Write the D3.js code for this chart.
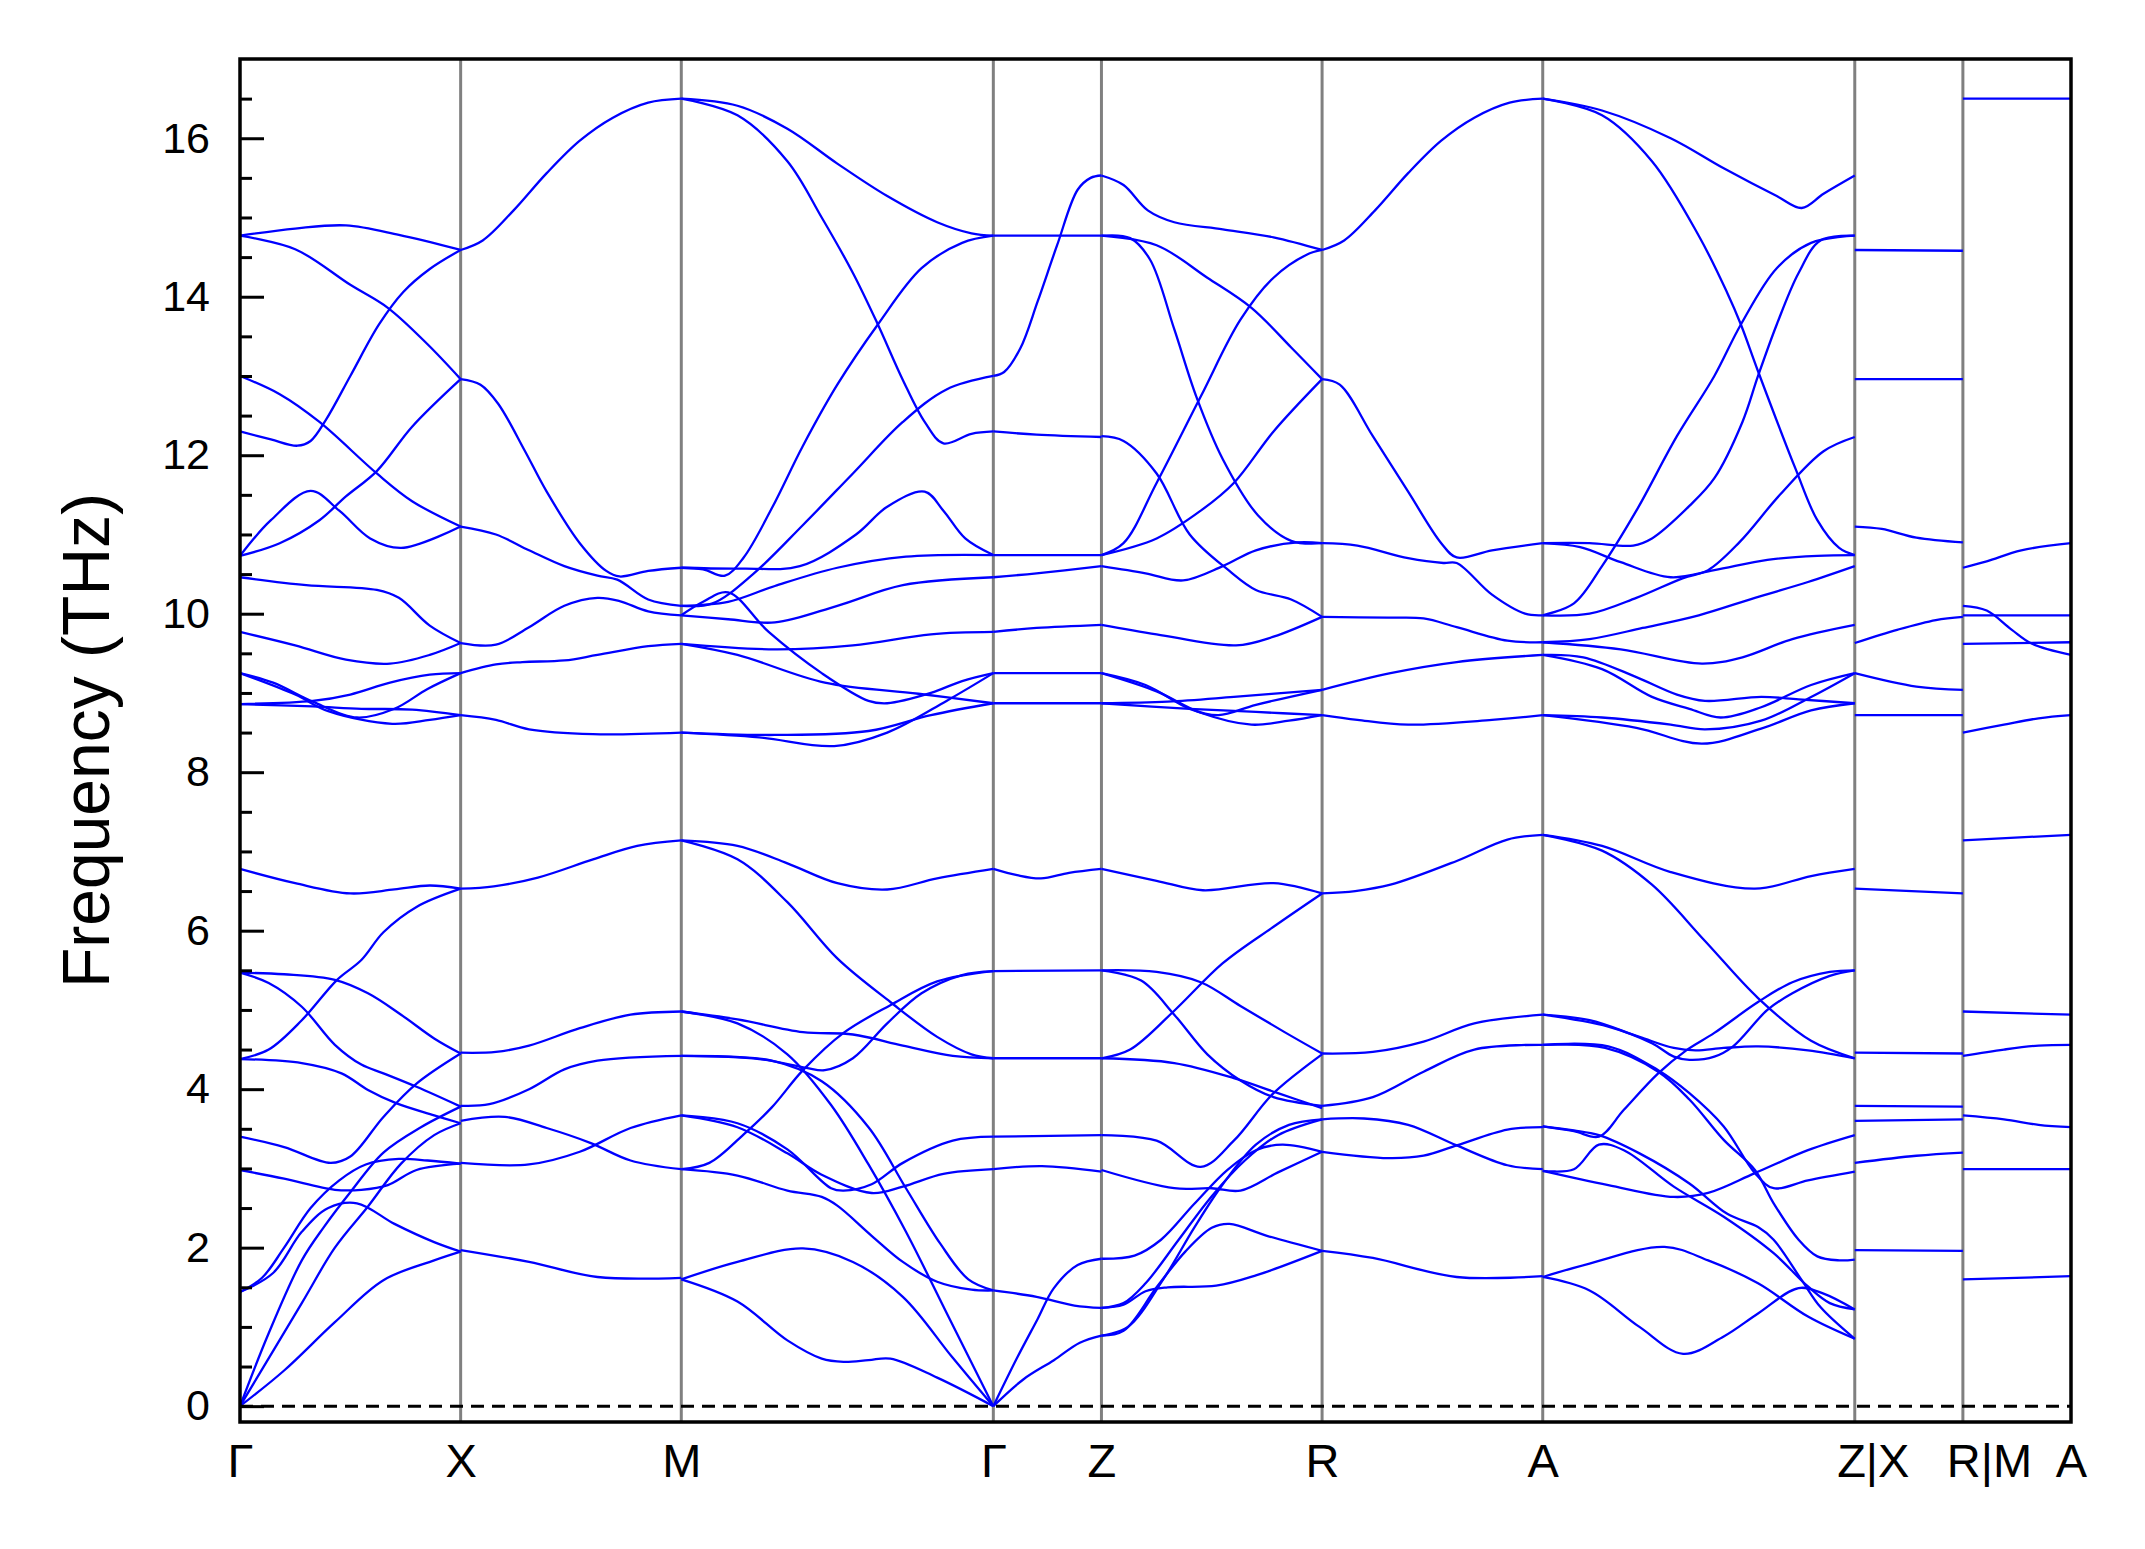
<!DOCTYPE html>
<html><head><meta charset="utf-8">
<script src="https://cdn.jsdelivr.net/npm/d3@7"></script>
<style>body{margin:0;background:#fff}</style>
</head><body><svg id="c" width="2145" height="1549"></svg>
<script>
// ---- high-symmetry path ----
const kLabels = ["Γ","X","M","Γ","Z","R","A","Z|X","R|M","A"];
const segLengths = [0.5, 0.5, 0.7071, 0.245, 0.5, 0.5, 0.7071, 0.245, 0.245];
const yMajorTicks = [0,2,4,6,8,10,12,14,16];

// ---- bands: each curve = [fraction along segment, frequency THz] ----
const bandsGX = [
 [[0,14.77],[0.25,14.86],[0.48,14.9],[0.72,14.78],[1,14.59]],
 [[0,14.77],[0.25,14.6],[0.5,14.15],[0.67,13.86],[0.85,13.4],[1,12.96]],
 [[0,13.0],[0.18,12.77],[0.36,12.42],[0.62,11.77],[0.78,11.42],[1,11.1]],
 [[0,12.3],[0.14,12.2],[0.26,12.12],[0.32,12.18],[0.39,12.45],[0.5,13.0],[0.63,13.65],[0.74,14.06],[0.86,14.35],[1,14.59]],
 [[0,10.73],[0.14,11.18],[0.32,11.55],[0.45,11.3],[0.59,10.95],[0.73,10.83],[1,11.1]],
 [[0,10.73],[0.18,10.89],[0.36,11.18],[0.48,11.48],[0.62,11.8],[0.78,12.36],[1,12.96]],
 [[0,10.46],[0.3,10.36],[0.62,10.3],[0.72,10.2],[0.86,9.85],[1,9.63]],
 [[0,9.77],[0.25,9.6],[0.48,9.42],[0.68,9.37],[0.86,9.48],[1,9.63]],
 [[0,9.25],[0.15,9.13],[0.33,8.89],[0.53,8.69],[0.7,8.8],[0.85,9.05],[1,9.25]],
 [[0,9.25],[0.25,8.98],[0.4,8.77],[0.69,8.61],[0.86,8.66],[1,8.72]],
 [[0,8.86],[0.33,8.83],[0.55,8.8],[0.78,8.79],[1,8.72]],
 [[0,8.86],[0.33,8.9],[0.5,8.98],[0.68,9.13],[0.86,9.23],[1,9.25]],
 [[0,6.78],[0.25,6.6],[0.5,6.47],[0.7,6.52],[0.86,6.57],[1,6.53]],
 [[0,5.47],[0.2,5.45],[0.43,5.38],[0.58,5.21],[0.73,4.94],[0.88,4.64],[1,4.45]],
 [[0,5.47],[0.13,5.34],[0.28,5.04],[0.43,4.56],[0.55,4.31],[0.65,4.2],[0.8,4.03],[1,3.78]],
 [[0,4.38],[0.13,4.5],[0.28,4.87],[0.44,5.38],[0.55,5.63],[0.65,5.98],[0.8,6.3],[1,6.53]],
 [[0,4.38],[0.28,4.33],[0.46,4.2],[0.58,3.99],[0.71,3.82],[0.88,3.67],[1,3.57]],
 [[0,3.40],[0.2,3.27],[0.41,3.07],[0.5,3.15],[0.65,3.65],[0.8,4.07],[1,4.45]],
 [[0,2.98],[0.2,2.87],[0.43,2.73],[0.55,2.73],[0.67,2.79],[0.8,2.98],[1,3.06]],
 [[0,1.44],[0.1,1.62],[0.2,2.0],[0.32,2.5],[0.45,2.85],[0.57,3.05],[0.72,3.12],[0.85,3.1],[1,3.06]],
 [[0,1.44],[0.15,1.68],[0.28,2.2],[0.4,2.5],[0.53,2.56],[0.7,2.3],[0.88,2.07],[1,1.95]],
 [[0,0],[0.13,0.92],[0.28,1.84],[0.38,2.26],[0.5,2.7],[0.65,3.2],[0.82,3.52],[1,3.78]],
 [[0,0],[0.28,1.3],[0.43,2.0],[0.58,2.52],[0.73,3.06],[0.88,3.42],[1,3.57]],
 [[0,0],[0.2,0.45],[0.43,1.06],[0.65,1.59],[0.88,1.84],[1,1.95]]
];
const bandsXM = [
 [[0,14.59],[0.1,14.71],[0.24,15.09],[0.39,15.56],[0.54,15.97],[0.69,16.26],[0.85,16.45],[1,16.5]],
 [[0,12.96],[0.09,12.89],[0.17,12.65],[0.29,12.06],[0.39,11.54],[0.54,10.89],[0.66,10.54],[0.72,10.47],[0.85,10.54],[1,10.58]],
 [[0,11.1],[0.16,11.0],[0.31,10.8],[0.47,10.6],[0.62,10.48],[0.71,10.43],[0.85,10.18],[1,10.1]],
 [[0,9.63],[0.16,9.61],[0.31,9.83],[0.47,10.1],[0.62,10.2],[0.72,10.16],[0.85,10.03],[1,9.98]],
 [[0,9.25],[0.16,9.36],[0.28,9.39],[0.47,9.41],[0.62,9.48],[0.85,9.59],[1,9.62]],
 [[0,8.72],[0.16,8.66],[0.31,8.54],[0.6,8.48],[1,8.5]],
 [[0,6.53],[0.15,6.56],[0.35,6.67],[0.6,6.9],[0.8,7.07],[1,7.14]],
 [[0,4.46],[0.16,4.47],[0.31,4.55],[0.54,4.77],[0.77,4.94],[1,4.98]],
 [[0,3.79],[0.13,3.81],[0.31,4.0],[0.47,4.25],[0.62,4.36],[1,4.42]],
 [[0,3.6],[0.2,3.65],[0.39,3.51],[0.59,3.32],[0.77,3.1],[1,2.99]],
 [[0,3.07],[0.31,3.05],[0.54,3.21],[0.77,3.51],[1,3.67]],
 [[0,1.97],[0.31,1.82],[0.62,1.63],[1,1.62]]
];
const bandsMG = [
 [[0,16.5],[0.18,16.41],[0.34,16.12],[0.5,15.68],[0.66,15.27],[0.82,14.94],[0.93,14.8],[1,14.77]],
 [[0,16.5],[0.18,16.29],[0.34,15.71],[0.45,15.0],[0.55,14.3],[0.63,13.65],[0.71,12.95],[0.78,12.42],[0.84,12.15],[0.93,12.27],[1,12.3]],
 [[0,10.58],[0.07,10.56],[0.14,10.48],[0.2,10.71],[0.29,11.33],[0.39,12.12],[0.5,12.89],[0.63,13.65],[0.77,14.36],[0.9,14.68],[1,14.77]],
 [[0,10.1],[0.1,10.13],[0.23,10.5],[0.39,11.12],[0.55,11.77],[0.71,12.42],[0.85,12.83],[1,13.0]],
 [[0,10.58],[0.2,10.57],[0.38,10.6],[0.56,11.0],[0.66,11.35],[0.78,11.54],[0.84,11.3],[0.91,10.95],[1,10.74]],
 [[0,10.1],[0.15,10.15],[0.3,10.35],[0.5,10.58],[0.72,10.72],[1,10.74]],
 [[0,9.98],[0.15,9.93],[0.3,9.89],[0.5,10.1],[0.71,10.36],[1,10.46]],
 [[0,9.98],[0.07,10.15],[0.15,10.27],[0.28,9.77],[0.45,9.25],[0.6,8.9],[0.66,8.87],[0.8,9.0],[0.9,9.15],[1,9.25]],
 [[0,9.62],[0.3,9.55],[0.55,9.6],[0.8,9.74],[1,9.77]],
 [[0,9.62],[0.18,9.48],[0.46,9.13],[0.76,8.99],[1,8.87]],
 [[0,8.5],[0.3,8.47],[0.6,8.52],[0.8,8.72],[1,8.87]],
 [[0,8.5],[0.25,8.44],[0.49,8.33],[0.66,8.5],[0.85,8.9],[1,9.25]],
 [[0,7.14],[0.18,7.07],[0.34,6.85],[0.5,6.6],[0.66,6.52],[0.82,6.66],[1,6.78]],
 [[0,7.14],[0.18,6.9],[0.34,6.36],[0.5,5.65],[0.67,5.1],[0.82,4.66],[0.93,4.44],[1,4.39]],
 [[0,4.98],[0.18,4.88],[0.39,4.72],[0.55,4.69],[0.71,4.55],[0.87,4.42],[1,4.39]],
 [[0,4.98],[0.18,4.83],[0.34,4.44],[0.48,3.8],[0.6,3.05],[0.72,2.2],[0.86,1.1],[1,0]],
 [[0,4.42],[0.29,4.36],[0.45,4.1],[0.6,3.52],[0.72,2.75],[0.83,2.05],[0.92,1.6],[1,1.46]],
 [[0,4.42],[0.25,4.38],[0.4,4.27],[0.46,4.24],[0.55,4.39],[0.66,4.83],[0.77,5.21],[0.9,5.44],[1,5.49]],
 [[0,3.67],[0.18,3.57],[0.34,3.24],[0.48,2.75],[0.52,2.72],[0.61,2.8],[0.71,3.07],[0.87,3.35],[1,3.4]],
 [[0,3.67],[0.18,3.52],[0.34,3.19],[0.45,2.92],[0.61,2.69],[0.71,2.77],[0.84,2.93],[1,2.99]],
 [[0,2.99],[0.09,3.07],[0.2,3.43],[0.29,3.77],[0.39,4.24],[0.52,4.71],[0.67,5.06],[0.82,5.36],[1,5.49]],
 [[0,2.99],[0.18,2.91],[0.34,2.72],[0.45,2.64],[0.5,2.53],[0.61,2.15],[0.71,1.82],[0.82,1.57],[0.93,1.47],[1,1.46]],
 [[0,1.6],[0.18,1.82],[0.39,1.99],[0.55,1.82],[0.71,1.38],[0.87,0.61],[1,0]],
 [[0,1.6],[0.18,1.32],[0.34,0.83],[0.45,0.6],[0.52,0.56],[0.6,0.58],[0.67,0.6],[0.82,0.36],[1,0]]
];
const bandsGZ = [
 [[0,14.77],[1,14.77]],
 [[0,13.0],[0.1,13.05],[0.25,13.35],[0.41,13.94],[0.59,14.65],[0.78,15.35],[0.9,15.5],[1,15.53]],
 [[0,12.3],[0.4,12.26],[1,12.23]],
 [[0,10.74],[1,10.74]],
 [[0,10.46],[0.4,10.51],[1,10.6]],
 [[0,9.77],[0.4,9.82],[1,9.86]],
 [[0,9.25],[1,9.25]],
 [[0,8.87],[1,8.87]],
 [[0,6.78],[0.22,6.7],[0.44,6.66],[0.7,6.73],[1,6.78]],
 [[0,5.49],[1,5.5]],
 [[0,4.39],[1,4.39]],
 [[0,3.4],[1,3.42]],
 [[0,2.99],[0.45,3.03],[1,2.96]],
 [[0,1.46],[0.4,1.38],[0.75,1.27],[1,1.24]],
 [[0,0],[0.22,0.61],[0.41,1.1],[0.56,1.49],[0.78,1.78],[1,1.86]],
 [[0,0],[0.28,0.34],[0.56,0.58],[0.8,0.8],[1,0.89]]
];
const bandsZR = [
 [[0,15.53],[0.1,15.41],[0.21,15.09],[0.33,14.94],[0.55,14.85],[0.78,14.75],[1,14.59]],
 [[0,14.77],[0.13,14.74],[0.22,14.47],[0.33,13.59],[0.43,12.74],[0.55,11.95],[0.71,11.24],[0.86,10.92],[1,10.89]],
 [[0,14.77],[0.25,14.65],[0.48,14.24],[0.68,13.86],[0.86,13.36],[1,12.96]],
 [[0,12.24],[0.1,12.18],[0.25,11.77],[0.4,11.0],[0.58,10.54],[0.7,10.3],[0.86,10.18],[1,9.96]],
 [[0,10.74],[0.1,10.89],[0.25,11.65],[0.45,12.74],[0.63,13.71],[0.78,14.24],[0.93,14.53],[1,14.59]],
 [[0,10.74],[0.25,10.95],[0.45,11.3],[0.6,11.65],[0.78,12.3],[1,12.96]],
 [[0,10.6],[0.2,10.51],[0.37,10.42],[0.55,10.6],[0.7,10.8],[0.89,10.9],[1,10.89]],
 [[0,9.86],[0.25,9.74],[0.61,9.6],[0.78,9.71],[1,9.96]],
 [[0,9.25],[0.2,9.1],[0.4,8.8],[0.53,8.72],[0.7,8.85],[1,9.04]],
 [[0,9.25],[0.25,9.02],[0.45,8.75],[0.68,8.6],[0.85,8.65],[1,8.72]],
 [[0,8.87],[0.3,8.89],[0.6,8.95],[1,9.04]],
 [[0,8.87],[0.4,8.8],[0.7,8.76],[1,8.72]],
 [[0,6.78],[0.25,6.63],[0.46,6.51],[0.78,6.6],[1,6.47]],
 [[0,5.5],[0.25,5.48],[0.45,5.35],[0.63,5.05],[0.83,4.72],[1,4.45]],
 [[0,5.5],[0.18,5.37],[0.33,4.94],[0.48,4.44],[0.63,4.11],[0.78,3.9],[1,3.79]],
 [[0,4.39],[0.13,4.5],[0.33,4.99],[0.55,5.59],[0.78,6.05],[1,6.47]],
 [[0,4.39],[0.33,4.33],[0.6,4.14],[0.8,3.95],[1,3.76]],
 [[0,3.42],[0.25,3.35],[0.45,3.02],[0.6,3.35],[0.78,3.95],[1,4.44]],
 [[0,2.98],[0.33,2.75],[0.5,2.75],[0.63,2.72],[0.8,2.95],[1,3.21]],
 [[0,1.86],[0.15,1.9],[0.27,2.1],[0.42,2.55],[0.57,2.98],[0.7,3.23],[0.82,3.3],[1,3.21]],
 [[0,1.24],[0.1,1.28],[0.2,1.45],[0.3,1.5],[0.52,1.52],[0.7,1.65],[1,1.96]],
 [[0,1.24],[0.1,1.3],[0.2,1.55],[0.35,2.1],[0.5,2.65],[0.65,3.1],[0.8,3.42],[1,3.62]],
 [[0,0.89],[0.1,0.95],[0.25,1.5],[0.38,1.95],[0.5,2.25],[0.58,2.3],[0.75,2.15],[1,1.96]],
 [[0,0.89],[0.12,1.0],[0.28,1.6],[0.42,2.25],[0.55,2.8],[0.7,3.3],[0.85,3.55],[1,3.62]]
];
const bandsRA = [
 [[0,14.59],[0.1,14.71],[0.24,15.09],[0.39,15.56],[0.54,15.97],[0.69,16.26],[0.85,16.45],[1,16.5]],
 [[0,12.96],[0.08,12.89],[0.23,12.24],[0.39,11.54],[0.54,10.89],[0.61,10.71],[0.77,10.8],[1,10.89]],
 [[0,10.89],[0.16,10.86],[0.39,10.7],[0.55,10.64],[0.61,10.64],[0.77,10.24],[0.92,10.0],[1,9.98]],
 [[0,9.96],[0.3,9.95],[0.46,9.94],[0.61,9.83],[0.84,9.66],[1,9.64]],
 [[0,9.04],[0.31,9.25],[0.61,9.39],[1,9.48]],
 [[0,8.72],[0.16,8.66],[0.39,8.6],[0.77,8.66],[1,8.72]],
 [[0,6.47],[0.15,6.5],[0.31,6.58],[0.61,6.88],[0.84,7.15],[1,7.21]],
 [[0,4.45],[0.23,4.47],[0.46,4.6],[0.69,4.83],[1,4.94]],
 [[0,3.79],[0.23,3.9],[0.46,4.22],[0.69,4.5],[1,4.56]],
 [[0,3.62],[0.19,3.63],[0.39,3.55],[0.61,3.29],[0.84,3.04],[1,2.99]],
 [[0,3.21],[0.3,3.13],[0.46,3.16],[0.61,3.29],[0.84,3.49],[1,3.52]],
 [[0,1.96],[0.23,1.87],[0.61,1.63],[1,1.64]]
];
const bandsAZ = [
 [[0,16.5],[0.19,16.35],[0.41,16.0],[0.58,15.62],[0.75,15.27],[0.83,15.12],[0.9,15.3],[1,15.53]],
 [[0,16.5],[0.19,16.29],[0.35,15.71],[0.5,14.77],[0.59,14.06],[0.635,13.65],[0.69,13.06],[0.81,11.83],[0.88,11.18],[0.95,10.83],[1,10.74]],
 [[0,9.98],[0.1,10.13],[0.19,10.6],[0.3,11.3],[0.43,12.24],[0.55,13.0],[0.635,13.65],[0.75,14.36],[0.86,14.68],[1,14.77]],
 [[0,10.89],[0.15,10.89],[0.29,10.86],[0.35,10.95],[0.47,11.36],[0.55,11.71],[0.64,12.42],[0.69,13.0],[0.75,13.65],[0.82,14.3],[0.89,14.71],[1,14.77]],
 [[0,10.89],[0.12,10.84],[0.25,10.65],[0.41,10.46],[0.55,10.55],[0.72,10.68],[0.88,10.73],[1,10.74]],
 [[0,9.98],[0.15,10.0],[0.3,10.2],[0.45,10.45],[0.53,10.55],[0.63,10.9],[0.76,11.5],[0.9,12.05],[1,12.23]],
 [[0,9.64],[0.15,9.68],[0.32,9.82],[0.5,9.98],[0.68,10.2],[0.85,10.4],[1,10.6]],
 [[0,9.64],[0.25,9.55],[0.51,9.37],[0.64,9.45],[0.8,9.68],[1,9.86]],
 [[0,9.48],[0.13,9.45],[0.3,9.2],[0.43,8.98],[0.52,8.9],[0.7,8.95],[0.82,8.92],[1,8.87]],
 [[0,9.48],[0.19,9.3],[0.35,8.95],[0.47,8.8],[0.57,8.69],[0.7,8.82],[0.86,9.1],[1,9.25]],
 [[0,8.72],[0.19,8.69],[0.41,8.6],[0.52,8.54],[0.7,8.65],[0.86,8.95],[1,9.25]],
 [[0,8.72],[0.3,8.56],[0.51,8.36],[0.7,8.55],[0.86,8.78],[1,8.87]],
 [[0,7.21],[0.19,7.07],[0.41,6.74],[0.68,6.53],[0.86,6.69],[1,6.78]],
 [[0,7.21],[0.19,7.01],[0.35,6.58],[0.52,5.87],[0.69,5.15],[0.86,4.61],[1,4.39]],
 [[0,4.94],[0.15,4.87],[0.31,4.66],[0.42,4.52],[0.49,4.49],[0.58,4.52],[0.69,4.54],[0.85,4.49],[1,4.39]],
 [[0,4.94],[0.21,4.79],[0.35,4.58],[0.42,4.41],[0.47,4.37],[0.55,4.41],[0.61,4.54],[0.72,5.0],[0.8,5.21],[0.92,5.43],[1,5.5]],
 [[0,4.56],[0.21,4.54],[0.37,4.24],[0.47,3.95],[0.58,3.53],[0.68,2.94],[0.74,2.75],[0.85,2.85],[1,2.96]],
 [[0,4.56],[0.2,4.52],[0.37,4.22],[0.47,3.87],[0.58,3.36],[0.68,2.98],[0.74,2.56],[0.82,2.1],[0.88,1.89],[0.95,1.84],[1,1.85]],
 [[0,3.53],[0.1,3.47],[0.18,3.4],[0.26,3.74],[0.37,4.2],[0.46,4.49],[0.55,4.71],[0.69,5.1],[0.8,5.35],[0.92,5.48],[1,5.5]],
 [[0,3.53],[0.1,3.48],[0.18,3.42],[0.31,3.19],[0.47,2.81],[0.59,2.43],[0.69,2.26],[0.74,2.1],[0.83,1.59],[0.89,1.25],[1,0.85]],
 [[0,2.97],[0.21,2.79],[0.42,2.64],[0.53,2.69],[0.68,2.94],[0.85,3.23],[1,3.42]],
 [[0,2.97],[0.1,2.99],[0.18,3.3],[0.26,3.23],[0.42,2.77],[0.58,2.39],[0.74,1.93],[0.85,1.51],[0.92,1.3],[1,1.22]],
 [[0,1.63],[0.15,1.8],[0.39,2.01],[0.53,1.84],[0.69,1.55],[0.85,1.13],[1,0.85]],
 [[0,1.63],[0.15,1.46],[0.31,1.0],[0.45,0.66],[0.58,0.88],[0.69,1.17],[0.82,1.49],[0.9,1.42],[1,1.22]]
];
const bandsXR = [
 [[0,14.59],[1,14.58]],
 [[0,12.96],[1,12.96]],
 [[0,11.1],[0.25,11.07],[0.57,10.96],[1,10.9]],
 [[0,9.63],[0.4,9.8],[0.75,9.92],[1,9.96]],
 [[0,9.25],[0.57,9.08],[1,9.04]],
 [[0,8.72],[1,8.72]],
 [[0,6.53],[1,6.47]],
 [[0,4.46],[1,4.45]],
 [[0,3.79],[1,3.78]],
 [[0,3.6],[1,3.62]],
 [[0,3.07],[0.57,3.16],[1,3.2]],
 [[0,1.97],[1,1.96]]
];
const bandsMA = [
 [[0,16.5],[1,16.5]],
 [[0,10.58],[0.22,10.66],[0.54,10.8],[1,10.89]],
 [[0,10.1],[0.22,10.04],[0.45,9.8],[0.64,9.62],[1,9.48]],
 [[0,9.98],[1,9.98]],
 [[0,9.62],[1,9.64]],
 [[0,8.5],[0.38,8.6],[0.7,8.68],[1,8.72]],
 [[0,7.14],[1,7.21]],
 [[0,4.98],[1,4.94]],
 [[0,4.42],[0.38,4.5],[0.7,4.55],[1,4.56]],
 [[0,3.67],[0.38,3.62],[0.7,3.55],[1,3.52]],
 [[0,2.99],[1,2.99]],
 [[0,1.6],[1,1.64]]
];
const segmentBands = [bandsGX,bandsXM,bandsMG,bandsGZ,bandsZR,bandsRA,bandsAZ,bandsXR,bandsMA];
// horizontal nudge (px) of composite labels, as placed in the original
const labelShift = [0,0,0,0,0,0,0,18,26,0];

// ---- layout ----
const W=2145,H=1549, L=240,R=2071,T=59,B=1422;
const cum=[0]; segLengths.forEach(s=>cum.push(cum[cum.length-1]+s));
const x=d3.scaleLinear().domain([0,cum[cum.length-1]]).range([L,R]);
const y=d3.scaleLinear().domain([-0.2,17.0]).range([B,T]);
const svg=d3.select('#c');
svg.append('rect').attr('width',W).attr('height',H).attr('fill','#fff');
const font="'Liberation Sans', Arial, Helvetica, sans-serif";

// vertical high-symmetry lines
svg.append('g').selectAll('line').data(cum.slice(1,-1)).join('line')
  .attr('x1',d=>x(d)).attr('x2',d=>x(d)).attr('y1',T).attr('y2',B)
  .attr('stroke','#808080').attr('stroke-width',3);

// bands
const gb=svg.append('g');
segmentBands.forEach((bands,i)=>{
  const line=d3.line()
    .x(d=>x(cum[i]+d[0]*segLengths[i]))
    .y(d=>y(d[1]))
    .curve(d3.curveCatmullRom.alpha(0.5));
  gb.append('g').selectAll('path').data(bands).join('path')
    .attr('d',line).attr('fill','none').attr('stroke','#0000ff')
    .attr('stroke-width',2.3).attr('stroke-linejoin','round');
});

// zero line
svg.append('line').attr('x1',L).attr('x2',R).attr('y1',y(0)).attr('y2',y(0))
  .attr('stroke','#000').attr('stroke-width',3).attr('stroke-dasharray','13,8');

// y axis major
const yAx=d3.axisLeft(y).tickValues(yMajorTicks).tickSize(-24).tickSizeOuter(0).tickPadding(30);
const ga=svg.append('g').attr('transform',`translate(${L},0)`).call(yAx);
ga.select('.domain').remove();
ga.selectAll('.tick line').attr('stroke','#000').attr('stroke-width',3);
ga.selectAll('.tick text').attr('font-family',font).attr('font-size',43).attr('fill','#000');
// minor
const minor=d3.range(0.5,17,0.5).filter(v=>v%2!==0);
const ym=d3.axisLeft(y).tickValues(minor).tickSize(-12).tickSizeOuter(0).tickFormat('');
const gm=svg.append('g').attr('transform',`translate(${L},0)`).call(ym);
gm.select('.domain').remove();
gm.selectAll('.tick line').attr('stroke','#000').attr('stroke-width',3);

// x labels
const xAx=d3.axisBottom(x).tickValues(cum).tickFormat((d,i)=>kLabels[i]).tickSize(0).tickPadding(22);
const gx=svg.append('g').attr('transform',`translate(0,${B})`).call(xAx);
gx.select('.domain').remove();
gx.selectAll('.tick text').attr('font-family',font).attr('font-size',47).attr('fill','#000')
  .attr('dx',(d,i)=>labelShift[i]);

// frame
svg.append('rect').attr('x',L).attr('y',T).attr('width',R-L).attr('height',B-T)
  .attr('fill','none').attr('stroke','#000').attr('stroke-width',3.5);

// y label
svg.append('text').attr('transform',`translate(109,${(T+B)/2}) rotate(-90)`)
  .attr('text-anchor','middle').attr('font-family',font).attr('font-size',66)
  .text('Frequency (THz)');
</script></body></html>
